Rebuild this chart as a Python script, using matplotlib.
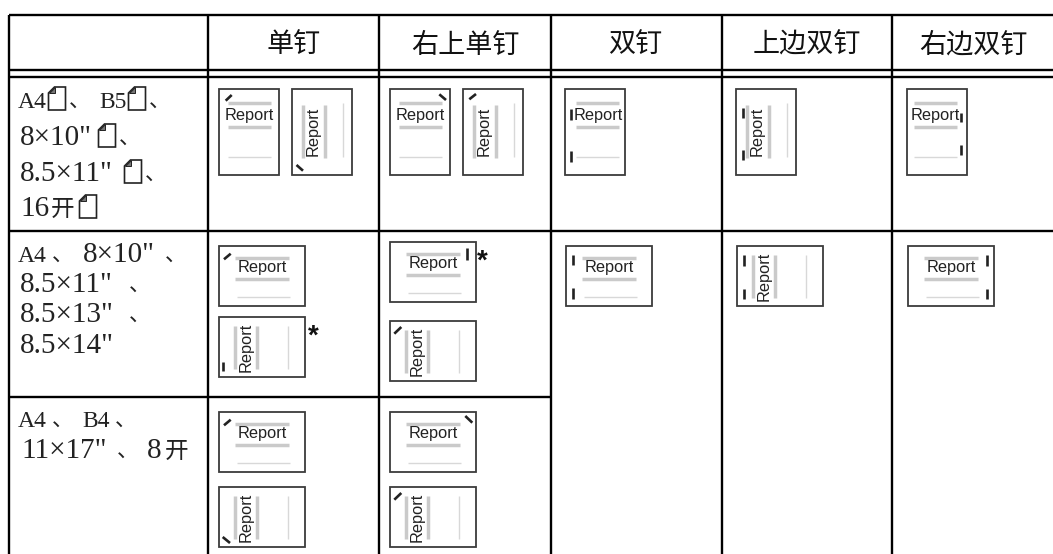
import matplotlib
matplotlib.use("Agg")
import matplotlib.pyplot as plt
from matplotlib.patches import Rectangle, Polygon

plt.rcParams['font.family'] = ['Noto Sans CJK SC', 'DejaVu Sans']

# Table text
headers = ["单钉", "右上单钉", "双钉", "上边双钉", "右边双钉"]
header_x = [294, 465, 635, 807, 973]

# Left column: one list of pieces per text line, "[]" is the small page sign
size_lines = [
    ["A4", "[]", "、", "B5", "[]", "、"],
    ['8×10"', "[]", "、"],
    ['8.5×11"', "[]", "、"],
    ["16", "开", "[]"],
    ["A4", "、", '8×10"', "、"],
    ['8.5×11"', "、"],
    ['8.5×13"', "、"],
    ['8.5×14"'],
    ["A4", "、", "B4", "、"],
    ['11×17"', "、", "8", "开"],
]
size_x = [
    [18, 48, 69, 99, 128, 149],
    [20, 98, 119],
    [20, 124, 145],
    [20, 51, 79],
    [18, 52, 83, 165],
    [20, 129],
    [20, 129],
    [20],
    [18, 52, 82, 115],
    [21, 117, 147, 165],
]
size_y = [108, 145, 181, 216, 262, 292, 322, 353, 427, 458]

# Table rules
col_lines = [9, 208, 379, 551, 722, 892]
top_y = 15
double_y = [70, 77]
row_y = 231
row2_y = 397
fig_w = 1053
fig_h = 554

# Stapling icons: page kind, staple mode, left, top, content shift
icons = [
    ("PH", "tl", 219, 89, 0),
    ("PV", "bl", 292, 89, 0),
    ("PH", "tr", 390, 89, 0),
    ("PV", "tl", 463, 89, 0),
    ("PH", "left", 565, 89, 2.3),
    ("PV", "left", 736, 89, 0),
    ("PH", "right", 907, 89, -2.3),
    ("LH", "tl", 219, 246, 0),
    ("LV", "bar_bl", 219, 317, 0),
    ("LH", "bar_tr", 390, 242, 0),
    ("LV", "tl", 390, 321, 0),
    ("LH", "left", 566, 246, 0),
    ("LV", "left", 737, 246, 0),
    ("LH", "right", 908, 246, 0),
    ("LH", "tl", 219, 412, 0),
    ("LV", "bl", 219, 487, 0),
    ("LH", "tr", 390, 412, 0),
    ("LV", "tl", 390, 487, 0),
]

# Staple strokes relative to the icon corner
staples = {
    ("PH", "tl"): [(6.7, 11.7, 12.7, 6)],
    ("PH", "tr"): [(49.3, 5.3, 56, 11)],
    ("PH", "left"): [(5.7, 20, 5.7, 31), (5.7, 61.7, 5.7, 72.7)],
    ("PH", "right"): [(53.7, 24, 53.7, 33), (53.7, 56, 53.7, 66)],
    ("PV", "tl"): [(6.3, 10.3, 13, 5)],
    ("PV", "bl"): [(4.5, 76, 11, 81.7)],
    ("PV", "left"): [(6.7, 19.3, 6.7, 29.3), (6.7, 61, 6.7, 71)],
    ("LH", "tl"): [(5, 13.3, 11.7, 7.7)],
    ("LH", "tr"): [(75.3, 4, 82.3, 10.7)],
    ("LH", "bar_tr"): [(77, 6.3, 77, 17.7)],
    ("LH", "left"): [(6.7, 9, 6.7, 19), (6.7, 42.3, 6.7, 53)],
    ("LH", "right"): [(79.3, 9, 79.3, 19.7), (79.3, 43, 79.3, 53)],
    ("LV", "tl"): [(4.3, 12.7, 11.3, 6)],
    ("LV", "bl"): [(3.7, 50, 11, 56)],
    ("LV", "bar_bl"): [(4, 44.7, 4, 54)],
    ("LV", "left"): [(6.7, 9, 6.7, 19.7), (6.7, 42.7, 6.7, 53)],
}

# Notes next to two of the icons
star_x = [313, 482]
star_y = [337, 262]

grey_bar = "#cacaca"
grey_thin = "#d8d8d8"
dark = "#3c3c3c"
serif = ["Liberation Serif", "Noto Sans CJK SC"]


def hline(ax, x1, x2, y, color, lw):
    ax.plot([x1, x2], [y, y], color=color, lw=lw, solid_capstyle="butt")


def vline(ax, x, y1, y2, color, lw):
    ax.plot([x, x], [y1, y2], color=color, lw=lw, solid_capstyle="butt")


# Little page sign with a folded corner
def page_sign(ax, x, base):
    left, right = x + 0.5, x + 17.5
    top, bottom = base - 21, base + 2
    ax.add_patch(Polygon([(left, bottom), (right, bottom), (right, top),
                          (left + 6, top), (left, top + 6)],
                         closed=True, fill=False, ec="#222222", lw=1.2))
    ax.add_patch(Polygon([(left + 6, top), (left + 6, top + 6), (left, top + 6)],
                         closed=True, fc="#777777", ec="#222222", lw=0.7))


def draw_icon(ax, kind, mode, x0, y0, shift):
    w, h = (60, 86) if kind[0] == "P" else (86, 60)
    ax.add_patch(Rectangle((x0, y0), w, h, fill=False, ec=dark, lw=1.3))

    if kind == "PH":
        text_x, text_y = 30.5, 26.2
        hline(ax, x0 + 9 + shift, x0 + 52 + shift, y0 + 14.3, grey_bar, 2.5)
        hline(ax, x0 + 9 + shift, x0 + 52 + shift, y0 + 37.7, grey_bar, 2.5)
        hline(ax, x0 + 9 + shift, x0 + 52 + shift, y0 + 68, grey_thin, 1.0)
    elif kind == "LH":
        text_x, text_y = 43, 21.5
        hline(ax, x0 + 16, x0 + 70, y0 + 11.7, grey_bar, 2.5)
        hline(ax, x0 + 16, x0 + 70, y0 + 33, grey_bar, 2.5)
        hline(ax, x0 + 18, x0 + 71, y0 + 51, grey_thin, 1.0)
    elif kind == "PV":
        text_x, text_y = 21.5, 42.5
        vline(ax, x0 + 11, y0 + 16, y0 + 69, grey_bar, 2.5)
        vline(ax, x0 + 33, y0 + 16, y0 + 69, grey_bar, 2.5)
        vline(ax, x0 + 51.3, y0 + 14, y0 + 68, grey_thin, 1.0)
    else:
        text_x, text_y = 26.7, 30
        vline(ax, x0 + 16, y0 + 9, y0 + 51.7, grey_bar, 2.5)
        vline(ax, x0 + 38, y0 + 9, y0 + 51.7, grey_bar, 2.5)
        vline(ax, x0 + 68.5, y0 + 9, y0 + 51.7, grey_thin, 1.0)

    ax.text(x0 + text_x + shift, y0 + text_y, "Report", family="Liberation Sans",
            fontsize=11.8, color="#222222", ha="center", va="center",
            rotation=90 if kind[1] == "V" else 0, zorder=3)

    for x1, y1, x2, y2 in staples[(kind, mode)]:
        ax.plot([x0 + x1, x0 + x2], [y0 + y1, y0 + y2], color="#222222",
                lw=1.9, solid_capstyle="butt")


fig = plt.figure(figsize=(fig_w / 100, fig_h / 100), dpi=100)
ax = fig.add_axes([0, 0, 1, 1])
ax.set_xlim(0, fig_w)
ax.set_ylim(fig_h, 0)
ax.axis("off")

# Table grid (open on the right and at the bottom)
line_w = 1.7
hline(ax, col_lines[0], fig_w, top_y, "black", line_w)
hline(ax, col_lines[0], fig_w, double_y[0], "black", line_w)
hline(ax, col_lines[0], fig_w, double_y[1], "black", line_w)
hline(ax, col_lines[0], fig_w, row_y, "black", line_w)
hline(ax, col_lines[0], col_lines[3], row2_y, "black", line_w)
for x in col_lines:
    vline(ax, x, top_y, fig_h, "black", line_w)

# Header row
for name, x in zip(headers, header_x):
    ax.text(x, 45, name, fontsize=19.5, color="#111111", ha="center", va="center")

# Left column, the letter sizes are narrower in the reference than the digits
for pieces, xs, y in zip(size_lines, size_x, size_y):
    for piece, x in zip(pieces, xs):
        if piece == "[]":
            page_sign(ax, x, y)
        elif piece == "开":
            ax.text(x, y, piece, family=serif, fontsize=17, color="#222222",
                    ha="left", va="baseline")
        elif piece == "、":
            ax.text(x, y, piece, family=serif, fontsize=15.5, color="#222222",
                    ha="left", va="baseline")
        else:
            size = 17 if piece[0] in "AB" else 21
            ax.text(x, y, piece, family=serif, fontsize=size, color="#222222",
                    ha="left", va="baseline")

for kind, mode, x0, y0, shift in icons:
    draw_icon(ax, kind, mode, x0, y0, shift)

for x, y in zip(star_x, star_y):
    ax.text(x, y, "*", family="Liberation Sans", fontweight="bold", fontsize=20,
            color="#111111", ha="center", va="center")

fig.savefig("out.png", dpi=100)
